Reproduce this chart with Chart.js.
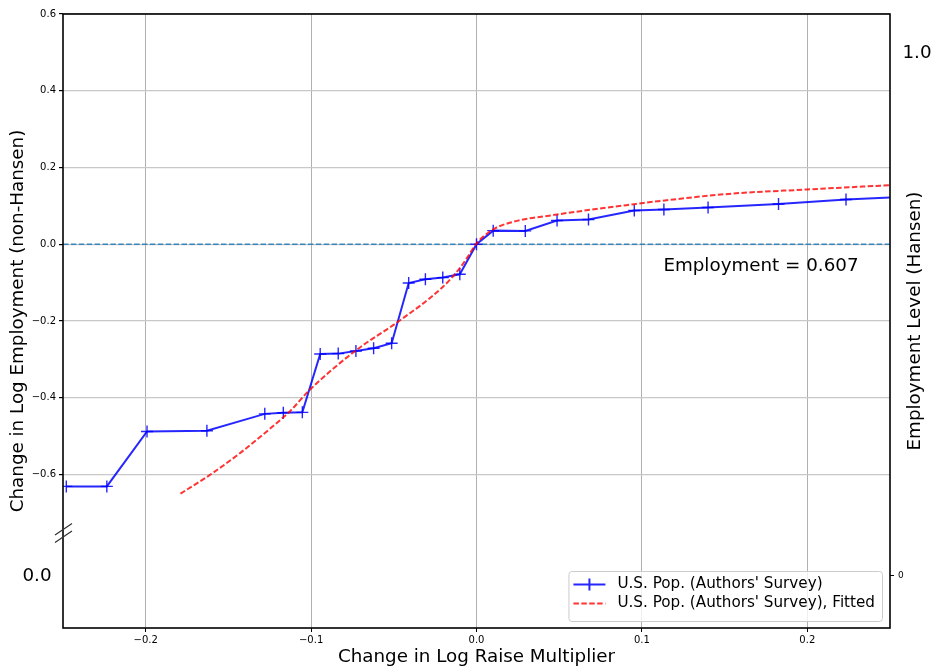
<!DOCTYPE html>
<html>
<head>
<meta charset="utf-8">
<script src="https://cdn.jsdelivr.net/npm/chart.js@4.4.0/dist/chart.umd.min.js"></script>
<style>
  html, body { margin: 0; padding: 0; background: #fff; }
  #wrap { width: 936px; height: 669px; }
</style>
</head>
<body>
<div id="wrap"><canvas id="chart" width="936" height="669"></canvas></div>
<script>
// Survey step series (log raise multiplier vs change in log employment)
const surveyX = [-0.248, -0.2235, -0.1992, -0.163, -0.128, -0.1168, -0.1053, -0.0945, -0.0836, -0.0729, -0.0622, -0.0513,
                 -0.041, -0.0309, -0.0204, -0.0101, 0, 0.0101, 0.0295, 0.0487, 0.0677, 0.0954, 0.1133, 0.14, 0.1826, 0.2234, 0.265];
const surveyY = [-0.631, -0.631, -0.488, -0.486, -0.442, -0.439, -0.438, -0.286, -0.285, -0.278, -0.271, -0.258,
                 -0.101, -0.0913, -0.0869, -0.0783, 0, 0.0355, 0.0348, 0.0617, 0.0643, 0.0878, 0.0904, 0.0957, 0.105, 0.1166, 0.125];

// Fitted curve
const fittedX = [-0.179, -0.1608, -0.1426, -0.1244, -0.1123, -0.1012, -0.0729, -0.0477, -0.0204, -0.0103, -0.0053,
                 0, 0.0099, 0.022, 0.0487, 0.0745, 0.0953, 0.115, 0.1554, 0.1998, 0.25];
const fittedY = [-0.650, -0.600, -0.543, -0.479, -0.433, -0.381, -0.2766, -0.2027, -0.1114, -0.0634, -0.033,
                 0.002, 0.0383, 0.0582, 0.0775, 0.0931, 0.1044, 0.1148, 0.1322, 0.1427, 0.154];

const baselineY = 0;
const employmentLevel = 0.607;

const xTicks = [-0.2, -0.1, 0.0, 0.1, 0.2];
const yTicks = [0.6, 0.4, 0.2, 0.0, -0.2, -0.4, -0.6];
const hansenTicks = [0];
const hansenMarks = [0, 1];

const surveyLabel = "U.S. Pop. (Authors' Survey)";
const fittedLabel = "U.S. Pop. (Authors' Survey), Fitted";

const FONT = "'DejaVu Sans', 'Liberation Sans', sans-serif";
const BIG = 18.3;
const BLUE = 'rgba(0, 0, 255, 0.85)';
const RED = 'rgba(255, 0, 0, 0.8)';
const DASH = [5.5, 2.4];

function fmt(v) {
  const s = Math.abs(v).toFixed(1);
  return v < -1e-9 ? '\u2212' + s : s;
}

// frame, axis break, hand placed labels and legend
const extras = {
  id: 'extras',
  afterDraw(chart) {
    const { ctx, chartArea: a, scales } = chart;
    ctx.save();

    // axes frame
    ctx.strokeStyle = '#000';
    ctx.lineWidth = 1.6;
    ctx.strokeRect(a.left, a.top, a.right - a.left, a.bottom - a.top);

    // break marks on the left spine
    ctx.strokeStyle = '#333';
    ctx.lineWidth = 1.2;
    ctx.beginPath();
    ctx.moveTo(a.left - 8, 535); ctx.lineTo(a.left + 9, 523.5);
    ctx.moveTo(a.left - 8, 542.5); ctx.lineTo(a.left + 9, 531);
    ctx.stroke();

    // Hansen level marks
    ctx.fillStyle = '#000';
    ctx.font = BIG + 'px ' + FONT;
    ctx.textBaseline = 'middle';
    ctx.textAlign = 'center';
    ctx.fillText(hansenMarks[0].toFixed(1), 37, scales.y2.getPixelForValue(hansenMarks[0]) + 1);
    ctx.fillText(hansenMarks[1].toFixed(1), 917, scales.y2.getPixelForValue(hansenMarks[1]));

    // right axis title
    ctx.save();
    ctx.translate(915, (a.top + a.bottom) / 2);
    ctx.rotate(-Math.PI / 2);
    ctx.fillText('Employment Level (Hansen)', 0, 0);
    ctx.restore();

    // employment annotation
    ctx.textAlign = 'left';
    ctx.fillText('Employment = ' + employmentLevel.toFixed(3),
      scales.x.getPixelForValue(0.113), scales.y.getPixelForValue(-0.058));

    // legend
    ctx.font = '15.2px ' + FONT;
    const tw = Math.max(ctx.measureText(surveyLabel).width, ctx.measureText(fittedLabel).width);
    const right = a.right - 8, bottom = a.bottom - 7;
    const w = 49 + tw + 7, h = 50;
    const left = right - w, top = bottom - h;
    ctx.beginPath();
    ctx.roundRect(left + 0.5, top + 0.5, w, h, 3);
    ctx.fillStyle = 'rgba(255,255,255,0.8)';
    ctx.fill();
    ctx.strokeStyle = '#cccccc';
    ctx.lineWidth = 1;
    ctx.stroke();

    const r1 = top + 13.5, r2 = top + 32.5;
    ctx.lineWidth = 2;
    ctx.strokeStyle = BLUE;
    ctx.beginPath();
    ctx.moveTo(left + 5, r1); ctx.lineTo(left + 37, r1);
    ctx.moveTo(left + 21, r1 - 6); ctx.lineTo(left + 21, r1 + 6);
    ctx.stroke();
    ctx.strokeStyle = RED;
    ctx.setLineDash(DASH);
    ctx.beginPath();
    ctx.moveTo(left + 5, r2); ctx.lineTo(left + 37, r2);
    ctx.stroke();
    ctx.setLineDash([]);

    ctx.fillStyle = '#000';
    ctx.textAlign = 'left';
    ctx.fillText(surveyLabel, left + 49, r1);
    ctx.fillText(fittedLabel, left + 49, r2);

    ctx.restore();
  }
};

const ctx = document.getElementById('chart').getContext('2d');
new Chart(ctx, {
  type: 'line',
  data: {
    datasets: [
      {
        label: surveyLabel,
        data: surveyX.map((x, i) => ({ x, y: surveyY[i] })),
        borderColor: BLUE,
        borderWidth: 2,
        pointStyle: 'cross',
        pointRadius: 6,
        pointBorderWidth: 1.4,
        pointBorderColor: BLUE,
        pointBackgroundColor: BLUE,
        tension: 0,
        fill: false,
        order: 2
      },
      {
        label: fittedLabel,
        data: fittedX.map((x, i) => ({ x, y: fittedY[i] })),
        borderColor: RED,
        borderWidth: 2,
        borderDash: DASH,
        pointRadius: 0,
        cubicInterpolationMode: 'monotone',
        fill: false,
        order: 1
      },
      {
        label: 'zero',
        data: [{ x: -0.25, y: baselineY }, { x: 0.25, y: baselineY }],
        borderColor: 'rgba(31, 119, 180, 0.85)',
        borderWidth: 1.6,
        borderDash: DASH,
        pointRadius: 0,
        fill: false,
        order: 3
      }
    ]
  },
  options: {
    responsive: false,
    animation: false,
    devicePixelRatio: 1,
    layout: { padding: { top: 14, left: 0, right: 0, bottom: 0 } },
    plugins: {
      legend: { display: false },
      tooltip: { enabled: false }
    },
    scales: {
      x: {
        type: 'linear',
        position: 'bottom',
        min: -0.25,
        max: 0.25,
        afterBuildTicks: s => { s.ticks = xTicks.map(v => ({ value: v })); },
        afterFit: s => { s.height = 41; },
        ticks: {
          color: '#000',
          padding: 2,
          maxRotation: 0,
          font: { family: FONT, size: 10 },
          callback: v => fmt(v)
        },
        grid: { color: '#b0b0b0', lineWidth: 1, tickColor: '#000', tickLength: 4 },
        border: { display: false },
        title: {
          display: true,
          text: 'Change in Log Raise Multiplier',
          color: '#000',
          font: { family: FONT, size: BIG },
          padding: { top: 0, bottom: 1 }
        }
      },
      y: {
        type: 'linear',
        position: 'left',
        min: -1.0,
        max: 0.6,
        afterBuildTicks: s => { s.ticks = yTicks.map(v => ({ value: v })); },
        afterFit: s => { s.width = 63; },
        ticks: {
          color: '#000',
          padding: 3,
          font: { family: FONT, size: 10 },
          callback: v => fmt(v)
        },
        grid: { color: '#c8c8c8', lineWidth: 1.2, tickColor: '#000', tickLength: 4 },
        border: { display: false },
        title: {
          display: true,
          text: 'Change in Log Employment (non-Hansen)',
          color: '#000',
          font: { family: FONT, size: BIG },
          padding: { top: 7, bottom: 0 }
        }
      },
      y2: {
        type: 'linear',
        position: 'right',
        min: -0.1,
        max: 1.075,
        afterBuildTicks: s => { s.ticks = hansenTicks.map(v => ({ value: v })); },
        afterFit: s => { s.width = 46; },
        ticks: {
          color: '#000',
          padding: 4,
          font: { family: FONT, size: 9 },
          callback: v => String(v)
        },
        grid: { drawOnChartArea: false, tickColor: '#000', tickLength: 4 },
        border: { display: false }
      }
    }
  },
  plugins: [extras]
});
</script>
</body>
</html>
